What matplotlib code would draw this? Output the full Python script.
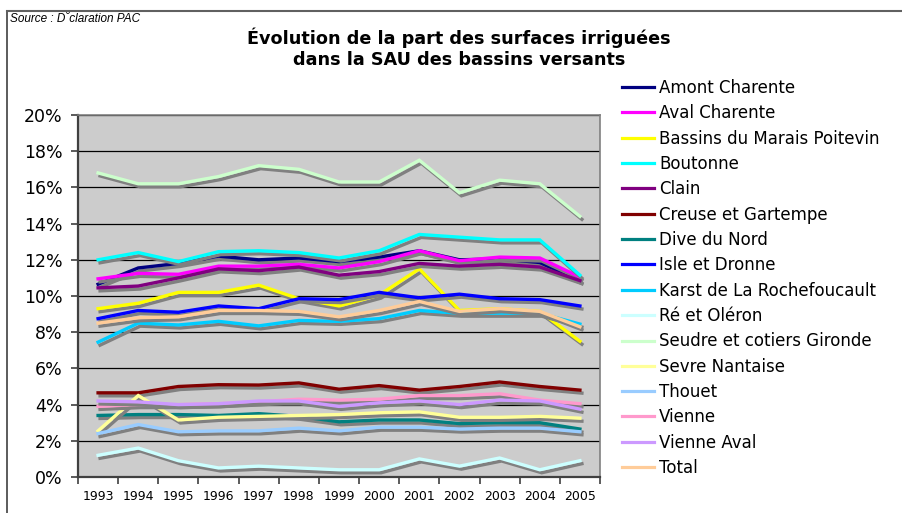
import numpy as np
import matplotlib
matplotlib.use("Agg")
import matplotlib.pyplot as plt
import matplotlib.transforms as mtransforms
from matplotlib.lines import Line2D

# -----------------------------
# Data
# -----------------------------
years = ["1993", "1994", "1995", "1996", "1997", "1998", "1999",
         "2000", "2001", "2002", "2003", "2004", "2005"]

amont_charente = [10.65, 11.55, 11.8, 12.2, 12.0, 12.1, 11.9, 12.15, 12.5, 12.0, 12.05, 11.85, 10.85]
aval_charente = [10.95, 11.25, 11.2, 11.65, 11.65, 11.75, 11.55, 11.9, 12.5, 11.95, 12.15, 12.1, 11.05]
marais_poitevin = [9.3, 9.6, 10.2, 10.2, 10.6, 9.85, 9.45, 10.05, 11.5, 9.2, 9.3, 9.15, 7.5]
boutonne = [12.0, 12.4, 11.9, 12.45, 12.5, 12.4, 12.1, 12.5, 13.4, 13.25, 13.1, 13.1, 11.15]
clain = [10.45, 10.55, 11.0, 11.5, 11.4, 11.6, 11.15, 11.35, 11.8, 11.65, 11.75, 11.6, 10.85]
creuse_gartempe = [4.65, 4.65, 5.0, 5.1, 5.08, 5.2, 4.85, 5.05, 4.8, 5.0, 5.25, 5.0, 4.8]
dive_du_nord = [3.4, 3.45, 3.45, 3.4, 3.5, 3.35, 3.05, 3.15, 3.15, 2.95, 3.0, 3.0, 2.65]
isle_dronne = [8.75, 9.2, 9.1, 9.45, 9.3, 9.85, 9.8, 10.2, 9.9, 10.1, 9.85, 9.8, 9.45]
karst = [7.45, 8.5, 8.4, 8.6, 8.35, 8.65, 8.6, 8.75, 9.2, 9.05, 9.05, 9.05, 8.45]
re_oleron = [1.2, 1.6, 0.9, 0.5, 0.6, 0.5, 0.4, 0.4, 1.0, 0.6, 1.05, 0.4, 0.9]
seudre_gironde = [16.8, 16.2, 16.2, 16.6, 17.2, 17.0, 16.3, 16.3, 17.5, 15.7, 16.4, 16.2, 14.4]
sevre_nantaise = [2.55, 4.5, 3.15, 3.3, 3.35, 3.4, 3.45, 3.55, 3.6, 3.3, 3.3, 3.35, 3.25]
thouet = [2.4, 2.9, 2.5, 2.55, 2.55, 2.7, 2.55, 2.75, 2.75, 2.65, 2.7, 2.7, 2.5]
vienne = [3.9, 4.0, 4.0, 4.05, 4.15, 4.3, 4.25, 4.3, 4.5, 4.5, 4.6, 4.25, 4.05]
vienne_aval = [4.2, 4.15, 4.0, 4.05, 4.2, 4.2, 3.9, 4.1, 4.2, 4.0, 4.25, 4.2, 3.75]
total = [8.5, 8.8, 8.85, 9.2, 9.2, 9.15, 8.85, 9.2, 9.7, 9.15, 9.3, 9.15, 8.3]

series_names = ["Amont Charente", "Aval Charente", "Bassins du Marais Poitevin",
                "Boutonne", "Clain", "Creuse et Gartempe", "Dive du Nord",
                "Isle et Dronne", "Karst de La Rochefoucault", "Ré et Oléron",
                "Seudre et cotiers Gironde", "Sevre Nantaise", "Thouet",
                "Vienne", "Vienne Aval", "Total"]
series_values = [amont_charente, aval_charente, marais_poitevin, boutonne, clain,
                 creuse_gartempe, dive_du_nord, isle_dronne, karst, re_oleron,
                 seudre_gironde, sevre_nantaise, thouet, vienne, vienne_aval, total]
colors = ["#000080", "#FF00FF", "#FFFF00", "#00FFFF", "#800080", "#800000",
          "#008080", "#0000FF", "#00CCFF", "#CCFFFF", "#CCFFCC", "#FFFF99",
          "#99CCFF", "#FF99CC", "#CC99FF", "#FFCC99"]

y_ticks = [0, 2, 4, 6, 8, 10, 12, 14, 16, 18, 20]
y_labels = ["0%", "2%", "4%", "6%", "8%", "10%", "12%", "14%", "16%", "18%", "20%"]

# -----------------------------
# Figure
# -----------------------------
W, H = 902, 513
fig = plt.figure(figsize=(W / 100, H / 100), dpi=100)
ax = fig.add_axes([78 / W, 1 - 477 / H, (600 - 78) / W, (477 - 115) / H])
ax.set_facecolor("#CCCCCC")

x = np.arange(len(years))
shadow = mtransforms.offset_copy(ax.transData, fig=fig, x=2, y=-3, units="dots")

handles = []
for i, (name, vals, col) in enumerate(zip(series_names, series_values, colors)):
    ax.plot(x, vals, color="#808080", lw=2.4, transform=shadow,
            solid_joinstyle="miter", zorder=3 + 2 * i)
    ax.plot(x, vals, color=col, lw=2.4, solid_joinstyle="miter", zorder=4 + 2 * i)
    handles.append(Line2D([], [], color=col, lw=2.3, label=name))

ax.set_xlim(-0.5, len(years) - 0.5)
ax.set_ylim(0, 20)
ax.set_yticks(y_ticks)
ax.set_yticklabels(y_labels, fontsize=12.5)
ax.set_xticks(x)
ax.set_xticklabels(years, fontsize=9)
ax.set_xticks(np.arange(-0.5, len(years)), minor=True)
ax.tick_params(axis="x", which="major", length=0, pad=9)
ax.tick_params(axis="x", which="minor", length=5, width=1.2, color="#404040", direction="out")
ax.tick_params(axis="y", length=5, width=1.2, color="#404040", direction="out", pad=6)
ax.grid(axis="y", color="black", lw=0.9, zorder=1)
ax.set_axisbelow(True)

for s in ["top", "right"]:
    ax.spines[s].set_color("#808080")
    ax.spines[s].set_linewidth(1.2)
for s in ["left", "bottom"]:
    ax.spines[s].set_color("#404040")
    ax.spines[s].set_linewidth(1.6)

# -----------------------------
# Legend
# -----------------------------
fig.legend(handles=handles, loc="upper left", bbox_to_anchor=(622 / W, 1 - 79 / H),
           frameon=False, fontsize=12, handlelength=1.92, handletextpad=0.3,
           labelspacing=0.44, borderpad=0, borderaxespad=0)

# -----------------------------
# Titles / texts
# -----------------------------
fig.text(459 / W, 1 - 38 / H, "Évolution de la part des surfaces irriguées",
         ha="center", va="center", fontsize=12.7, fontweight="bold")
fig.text(459 / W, 1 - 60 / H, "dans la SAU des bassins versants",
         ha="center", va="center", fontsize=12.7, fontweight="bold")
fig.text(10 / W, 1 - 19 / H, "Source : D\u02d8claration PAC", ha="left", va="center",
         fontsize=8.5, style="italic", family="Liberation Sans")

# chart frame (left + top)
fig.add_artist(Line2D([7 / W, 7 / W], [0, 1 - 11 / H], color="#404040", lw=1.2))
fig.add_artist(Line2D([7 / W, 1], [1 - 11 / H, 1 - 11 / H], color="#606060", lw=1.5))

fig.savefig("out.png", dpi=100)
